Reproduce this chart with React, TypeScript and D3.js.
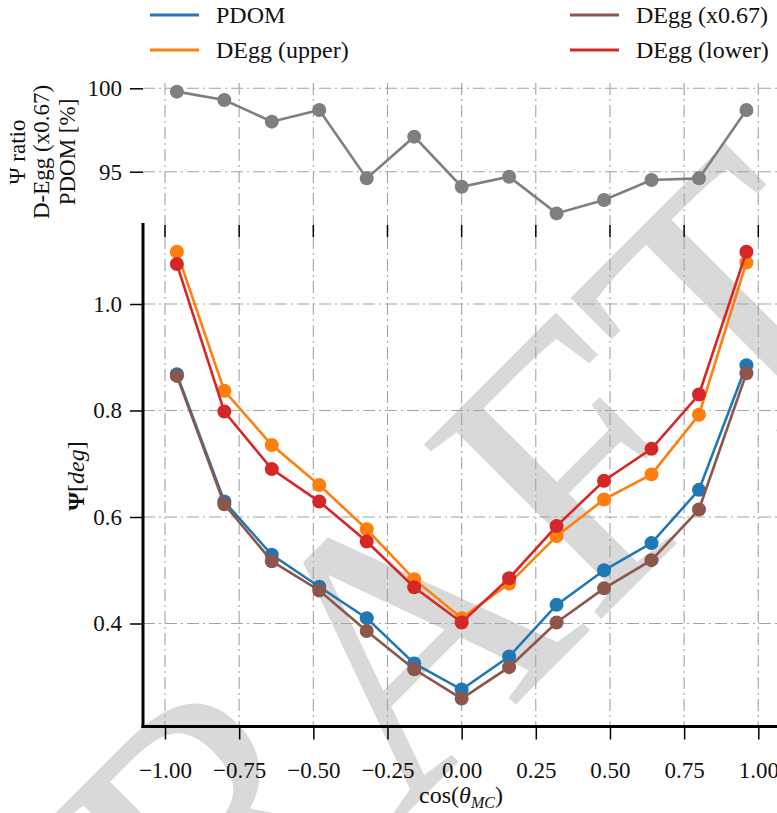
import React, { useRef, useEffect } from 'react'
import * as d3 from 'd3'

// cos(theta_MC) bin centres
const cosBins = [-0.96, -0.8, -0.64, -0.48, -0.32, -0.16, 0, 0.16, 0.32, 0.48, 0.64, 0.8, 0.96]

// Psi [deg] per bin
const pdom = [0.868, 0.629, 0.529, 0.469, 0.41, 0.325, 0.276, 0.338, 0.435, 0.5, 0.551, 0.651, 0.885]
const degUpper = [1.098, 0.837, 0.735, 0.66, 0.577, 0.483, 0.41, 0.475, 0.564, 0.633, 0.68, 0.792, 1.078]
const degScaled = [0.865, 0.624, 0.517, 0.462, 0.386, 0.314, 0.259, 0.318, 0.402, 0.466, 0.519, 0.614, 0.87]
const degLower = [1.075, 0.798, 0.69, 0.629, 0.554, 0.468, 0.402, 0.485, 0.583, 0.668, 0.728, 0.83, 1.098]

// ratio D-Egg(x0.67) / PDOM [%]
const ratio = [99.8, 99.3, 98.0, 98.7, 94.6, 97.1, 94.1, 94.7, 92.5, 93.3, 94.5, 94.6, 98.7]

const xTicks = [-1, -0.75, -0.5, -0.25, 0, 0.25, 0.5, 0.75, 1]
const yTicks = [0.4, 0.6, 0.8, 1.0]
const ratioTicks = [95, 100]

const SERIES = [
  { name: 'PDOM', values: pdom, color: '#1f77b4' },
  { name: 'DEgg (upper)', values: degUpper, color: '#ff7f0e' },
  { name: 'DEgg (x0.67)', values: degScaled, color: '#8c564b' },
  { name: 'DEgg (lower)', values: degLower, color: '#d62728' },
]

const FONT = '"Liberation Serif", "DejaVu Serif", serif'
const GRID = '#a3a3a3'
const DASH = '12,4,2,4'

export default function App() {
  const svgRef = useRef<SVGSVGElement>(null)
  const width = 777
  const height = 813

  useEffect(() => {
    if (!svgRef.current) return
    const svg = d3.select(svgRef.current)
    svg.selectAll('*').remove()

    const left = 143
    const right = 777
    const bottom = 726.5
    const mainTop = 223
    const ratioTop = 83

    const x = d3.scaleLinear().domain([-1, 1]).range([165, 758.3])
    const y = d3.scaleLinear().domain([0.4, 1.0]).range([623.5, 304])
    const yR = d3.scaleLinear().domain([95, 100]).range([171.7, 88.3])

    // watermark
    svg.append('text')
      .attr('transform', 'translate(376,666) rotate(-45)')
      .attr('x', 0)
      .attr('y', 126)
      .attr('text-anchor', 'middle')
      .style('font-family', FONT)
      .style('font-size', '380px')
      .style('fill', '#d9d9d9')
      .text('DRAFT')

    // grid
    const grid = svg.append('g').attr('stroke', GRID).attr('stroke-width', 1.1).attr('stroke-dasharray', DASH)
    grid.selectAll('.vg').data(xTicks).enter().append('line')
      .attr('x1', d => x(d)).attr('x2', d => x(d))
      .attr('y1', ratioTop).attr('y2', bottom)
    grid.selectAll('.hg').data(yTicks).enter().append('line')
      .attr('x1', left).attr('x2', right)
      .attr('y1', d => y(d)).attr('y2', d => y(d))
    grid.selectAll('.hr').data(ratioTicks).enter().append('line')
      .attr('x1', left).attr('x2', right)
      .attr('y1', d => yR(d)).attr('y2', d => yR(d))

    // ratio panel
    const ratioLine = d3.line<number>().x((_, i) => x(cosBins[i])).y(d => yR(d))
    svg.append('path').datum(ratio)
      .attr('d', ratioLine)
      .attr('fill', 'none')
      .attr('stroke', '#7f7f7f')
      .attr('stroke-width', 2.6)
    svg.append('g').selectAll('circle').data(ratio).enter().append('circle')
      .attr('cx', (_, i) => x(cosBins[i]))
      .attr('cy', d => yR(d))
      .attr('r', 7)
      .attr('fill', '#7f7f7f')

    // main series
    SERIES.forEach(s => {
      const line = d3.line<number>().x((_, i) => x(cosBins[i])).y(d => y(d))
      const g = svg.append('g')
      g.append('path').datum(s.values)
        .attr('d', line)
        .attr('fill', 'none')
        .attr('stroke', s.color)
        .attr('stroke-width', 2.6)
      g.selectAll('circle').data(s.values).enter().append('circle')
        .attr('cx', (_, i) => x(cosBins[i]))
        .attr('cy', d => y(d))
        .attr('r', 7)
        .attr('fill', s.color)
    })

    // axes
    const styleAxis = (g: any) => {
      g.attr('font-family', FONT).attr('font-size', 23)
      g.select('.domain').remove()
      g.selectAll('line').attr('stroke', '#000').attr('stroke-width', 1.5)
      g.selectAll('text')
        .style('font-family', FONT)
        .style('font-size', '23px')
        .style('fill', '#111')
    }

    svg.append('g')
      .attr('transform', `translate(0,${bottom})`)
      .call(d3.axisBottom(x).tickValues(xTicks).tickSize(13).tickFormat(d3.format('.2f')))
      .call(styleAxis)
      .selectAll('text').attr('y', 51.5).attr('dy', 0)

    svg.append('g')
      .attr('transform', `translate(${left},0)`)
      .call(d3.axisLeft(y).tickValues(yTicks).tickSize(13).tickPadding(8).tickFormat(d3.format('.1f')))
      .call(styleAxis)

    svg.append('g')
      .attr('transform', `translate(${left},0)`)
      .call(d3.axisLeft(yR).tickValues(ratioTicks).tickSize(13).tickPadding(8).tickFormat(d3.format('d')))
      .call(styleAxis)

    // short ticks between the panels
    svg.append('g').selectAll('line').data(xTicks).enter().append('line')
      .attr('x1', d => x(d)).attr('x2', d => x(d))
      .attr('y1', 225).attr('y2', 237)
      .attr('stroke', '#000').attr('stroke-width', 1.5)

    // spines
    svg.append('line').attr('x1', left).attr('x2', left).attr('y1', mainTop).attr('y2', bottom + 1.5)
      .attr('stroke', '#000').attr('stroke-width', 3)
    svg.append('line').attr('x1', left - 1.5).attr('x2', right).attr('y1', bottom).attr('y2', bottom)
      .attr('stroke', '#000').attr('stroke-width', 3)

    // axis labels
    const xl = svg.append('text')
      .attr('x', 461).attr('y', 803)
      .attr('text-anchor', 'middle')
      .style('font-family', FONT).style('font-size', '24px').style('fill', '#111')
    xl.append('tspan').text('cos(')
    xl.append('tspan').style('font-style', 'italic').text('θ')
    xl.append('tspan').attr('dy', 5).style('font-style', 'italic').style('font-size', '16px').text('MC')
    xl.append('tspan').attr('dy', -5).text(')')

    const yl = svg.append('text')
      .attr('transform', 'translate(84,476) rotate(-90)')
      .attr('text-anchor', 'middle')
      .style('font-family', FONT).style('font-size', '24px').style('fill', '#111')
    yl.append('tspan').style('font-weight', 'bold').text('Ψ')
    yl.append('tspan').text('[')
    yl.append('tspan').style('font-style', 'italic').text('deg')
    yl.append('tspan').text(']')

    const rl = [
      { t: 'Ψ ratio', x: 25 },
      { t: 'D-Egg (x0.67)', x: 49 },
      { t: 'PDOM [%]', x: 75 },
    ]
    svg.append('g').selectAll('text').data(rl).enter().append('text')
      .attr('transform', d => `translate(${d.x},152) rotate(-90)`)
      .attr('text-anchor', 'middle')
      .style('font-family', FONT).style('font-size', '23px').style('fill', '#111')
      .text(d => d.t)

    // legend (two columns)
    const legendPos = [
      { lx: 150, ty: 15 },
      { lx: 150, ty: 50 },
      { lx: 570, ty: 15 },
      { lx: 570, ty: 50 },
    ]
    const leg = svg.append('g').selectAll('g').data(SERIES).enter().append('g')
      .attr('transform', (_, i) => `translate(${legendPos[i].lx},${legendPos[i].ty})`)
    leg.append('line')
      .attr('x1', 0).attr('x2', 49).attr('y1', 0).attr('y2', 0)
      .attr('stroke', d => d.color).attr('stroke-width', 3)
    leg.append('text')
      .attr('x', 66).attr('y', 8)
      .style('font-family', FONT).style('font-size', '24px').style('fill', '#111')
      .text(d => d.name)
  }, [])

  return (
    <svg
      ref={svgRef}
      width={width}
      height={height}
      style={{ position: 'absolute', left: 0, top: 0, background: 'white' }}
    />
  )
}
